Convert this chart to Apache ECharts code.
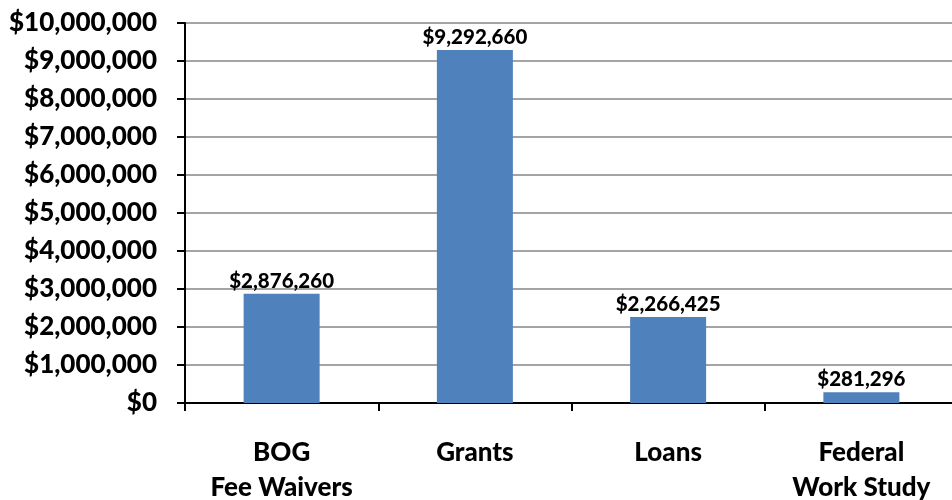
<!DOCTYPE html>
<html>
<head>
<meta charset="utf-8">
<script src="https://cdn.jsdelivr.net/npm/echarts@6/dist/echarts.min.js"></script>
<style>
  html, body { margin: 0; padding: 0; background: #fff; }
  #chart { width: 952px; height: 500px; }
</style>
</head>
<body>
<div id="chart"></div>
<script>
// Financial aid totals by award type
const categories = ['BOG\nFee Waivers', 'Grants', 'Loans', 'Federal\nWork Study'];
const amounts = [2876260, 9292660, 2266425, 281296];
const yTicks = { min: 0, max: 10000000, interval: 1000000 };

const FONT = 'Lato, "Open Sans", sans-serif';
const money = v => '$' + Math.round(v).toString().replace(/\B(?=(\d{3})+(?!\d))/g, ',');

const chart = echarts.init(document.getElementById('chart'), null, { renderer: 'canvas' });
chart.setOption({
  animation: false,
  grid: { left: 185, right: -6, top: 23, bottom: 97, containLabel: false, outerBoundsMode: 'none' },
  xAxis: {
    type: 'category',
    data: categories,
    axisLine: { lineStyle: { color: '#000', width: 2 } },
    axisTick: { show: true, length: 8, interval: 0, lineStyle: { color: '#000', width: 2 } },
    axisLabel: {
      interval: 0, margin: 32, color: '#000',
      fontFamily: FONT, fontWeight: 900, fontSize: 26, lineHeight: 35
    }
  },
  yAxis: {
    type: 'value',
    min: yTicks.min, max: yTicks.max, interval: yTicks.interval,
    axisLine: { show: true, lineStyle: { color: '#000', width: 2 } },
    axisTick: { show: true, length: 8, lineStyle: { color: '#000', width: 2 } },
    splitLine: { lineStyle: { color: '#868686', width: 1.5 } },
    axisLabel: {
      margin: 28, color: '#000',
      fontFamily: FONT, fontWeight: 900, fontSize: 26,
      formatter: money
    }
  },
  series: [{
    type: 'bar',
    data: amounts,
    barWidth: 76,
    itemStyle: { color: '#4F81BD' },
    label: {
      show: true, position: 'top', distance: 2, color: '#000',
      fontFamily: FONT, fontWeight: 900, fontSize: 20.5,
      formatter: p => money(p.value)
    }
  }]
});
</script>
</body>
</html>
